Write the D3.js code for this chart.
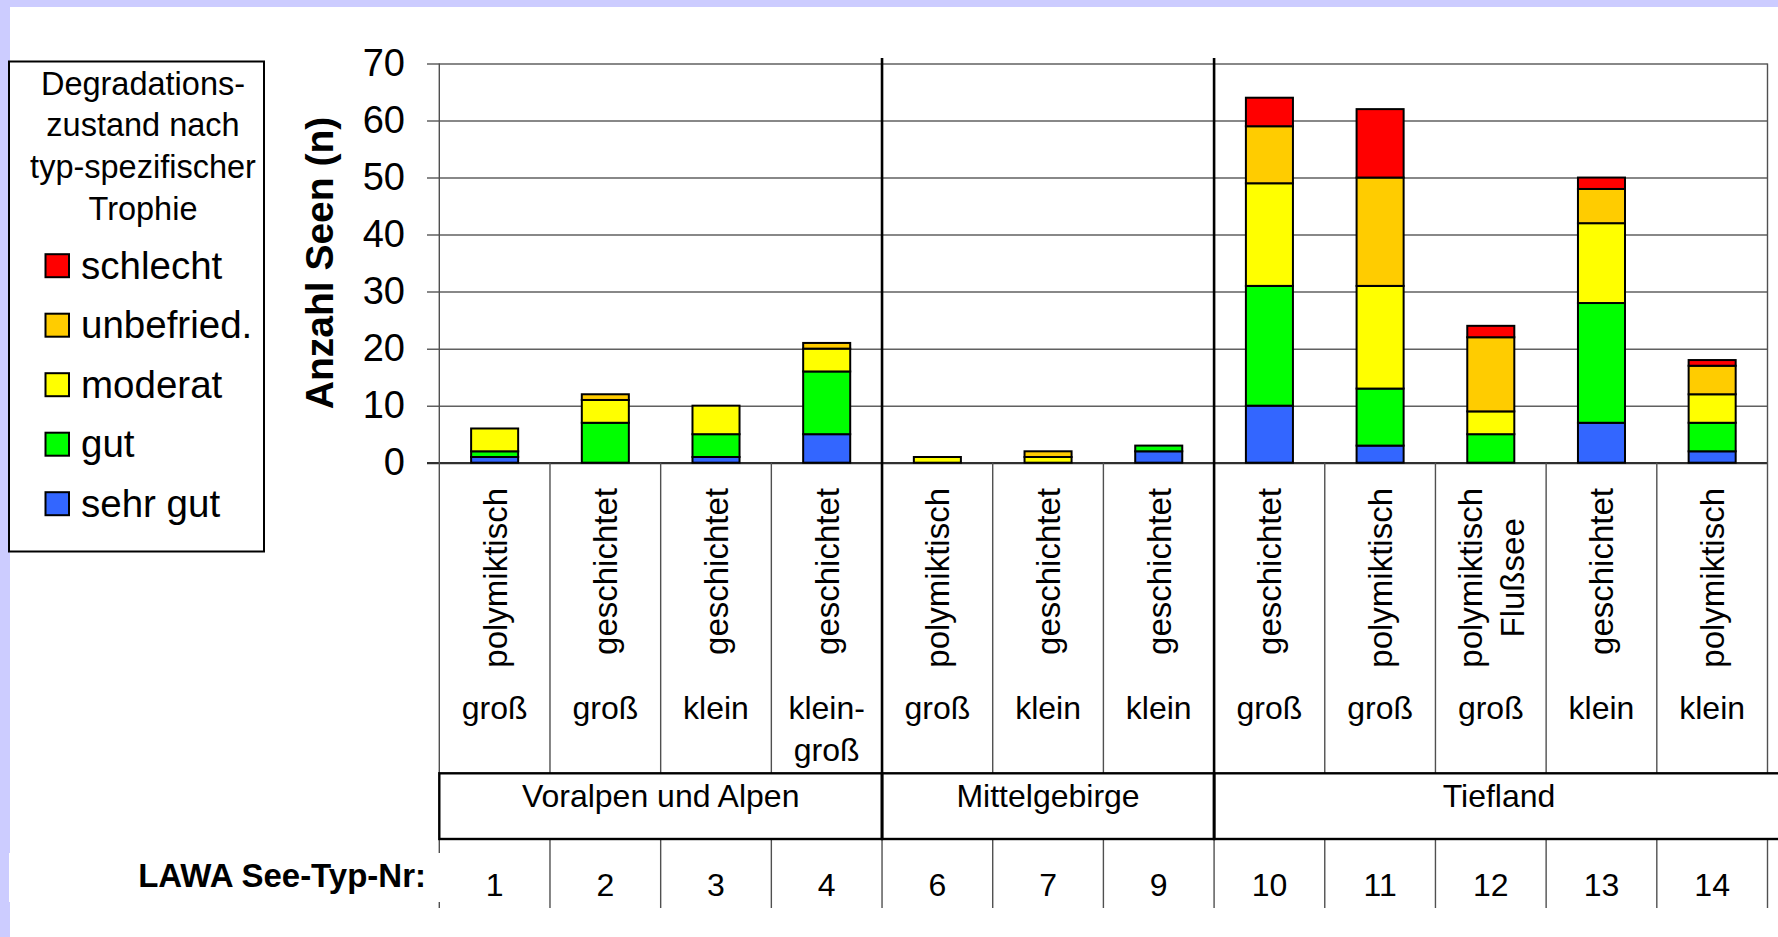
<!DOCTYPE html>
<html lang="de">
<head>
<meta charset="utf-8">
<title>Degradationszustand nach typ-spezifischer Trophie</title>
<script src="https://cdn.jsdelivr.net/npm/d3@7"></script>
<style>
  html, body { margin: 0; padding: 0; background: #ffffff; }
  svg { display: block; font-family: Arial, "Liberation Sans", sans-serif; }
</style>
</head>
<body>
<svg id="chart" width="1778" height="937"></svg>
<script>
// LAWA lake types along the x axis
const categories = ["1", "2", "3", "4", "6", "7", "9", "10", "11", "12", "13", "14"];
// mixing regime (rotated label lines) and size class (horizontal label lines)
const mixingLabels = [["polymiktisch"], ["geschichtet"], ["geschichtet"], ["geschichtet"],
  ["polymiktisch"], ["geschichtet"], ["geschichtet"], ["geschichtet"], ["polymiktisch"],
  ["polymiktisch", "Flußsee"], ["geschichtet"], ["polymiktisch"]];
const sizeLabels = [["groß"], ["groß"], ["klein"], ["klein-", "groß"], ["groß"], ["klein"],
  ["klein"], ["groß"], ["groß"], ["groß"], ["klein"], ["klein"]];

// eco-regions grouping the lake types
const regionNames = ["Voralpen und Alpen", "Mittelgebirge", "Tiefland"];
const regionFirst = ["1", "6", "10"];
const regionLast = ["4", "9", "14"];

// number of lakes per trophic degradation class
const classNames = ["sehr gut", "gut", "moderat", "unbefried.", "schlecht"];
const sehrGut   = [1, 0, 1, 5, 0, 0, 2, 10, 3, 0, 7, 2];
const gut       = [1, 7, 4, 11, 0, 0, 1, 21, 10, 5, 21, 5];
const moderat   = [4, 4, 5, 4, 1, 1, 0, 18, 18, 4, 14, 5];
const unbefried = [0, 1, 0, 1, 0, 1, 0, 10, 19, 13, 6, 5];
const schlecht  = [0, 0, 0, 0, 0, 0, 0, 5, 12, 2, 2, 1];
const classColors = ["#3366ff", "#00ff00", "#ffff00", "#ffcc00", "#ff0000"];

const yTicks = [0, 10, 20, 30, 40, 50, 60, 70];

const legendTitle = ["Degradations-", "zustand nach", "typ-spezifischer", "Trophie"];
const yTitle = "Anzahl Seen (n)";
const typeTitle = "LAWA See-Typ-Nr:";

// ---- layout ----
const W = 1778, H = 937;
const plotLeft = 439.3, plotRight = 1767.5, plotTop = 63.5, plotBottom = 462.7;
const labelBottom = 773.3, regionBottom = 839, numTop = 840, numBottom = 908;
const regionBoxRight = 1784;

const svg = d3.select("#chart");

// page frame
svg.append("rect").attr("width", W).attr("height", H).attr("fill", "#ccccff");
svg.append("rect").attr("x", 10).attr("y", 7).attr("width", W - 10).attr("height", H - 7).attr("fill", "#ffffff");

const x = d3.scaleBand().domain(categories).range([plotLeft, plotRight])
  .paddingInner(0.575).paddingOuter(0.2875);
const step = x.step();
const center = c => x(c) + x.bandwidth() / 2;
const edge = i => plotLeft + i * step;

const y = d3.scaleLinear().domain([0, 70]).range([plotBottom, plotTop]);

// gridlines + tick labels
const yAxis = d3.axisLeft(y).tickValues(yTicks)
  .tickSizeInner(plotRight - 427).tickSizeOuter(0).tickPadding(22)
  .tickFormat(d3.format("d"));
const gy = svg.append("g").attr("transform", `translate(${plotRight},0)`).call(yAxis);
gy.select(".domain").remove();
gy.selectAll(".tick line").attr("stroke", "#606060").attr("stroke-width", 1.5);
gy.selectAll(".tick text").attr("font-size", 38).attr("fill", "#000")
  .attr("font-family", "Arial, 'Liberation Sans', sans-serif");
gy.selectAll(".tick").filter(d => d === 0).select("line")
  .attr("stroke", "#303030").attr("stroke-width", 2.2);

// y axis title
svg.append("text")
  .attr("transform", `translate(333,263) rotate(-90)`)
  .attr("text-anchor", "middle")
  .attr("font-size", 39).attr("font-weight", "bold")
  .text(yTitle);

// stacked bars
const table = categories.map((c, i) => ({
  cat: c,
  "sehr gut": sehrGut[i], "gut": gut[i], "moderat": moderat[i],
  "unbefried.": unbefried[i], "schlecht": schlecht[i]
}));
const stacked = d3.stack().keys(classNames)(table);
const bars = svg.append("g");
stacked.forEach((layer, k) => {
  bars.selectAll(null)
    .data(layer.filter(d => d[1] > d[0]))
    .join("rect")
    .attr("x", d => x(d.data.cat))
    .attr("width", x.bandwidth())
    .attr("y", d => y(d[1]))
    .attr("height", d => y(d[0]) - y(d[1]))
    .attr("fill", classColors[k])
    .attr("stroke", "#000").attr("stroke-width", 2);
});

// vertical separators of the category table
const grid = svg.append("g");
const groupEdges = regionLast.slice(0, -1).map(c => categories.indexOf(c) + 1);
d3.range(categories.length + 1).forEach(i => {
  const xe = edge(i);
  if (groupEdges.includes(i)) {
    grid.append("line").attr("x1", xe).attr("x2", xe).attr("y1", 58).attr("y2", regionBottom)
      .attr("stroke", "#000").attr("stroke-width", 2.6);
  } else {
    const top = (i === 0 || i === categories.length) ? plotTop : plotBottom;
    grid.append("line").attr("x1", xe).attr("x2", xe).attr("y1", top).attr("y2", labelBottom)
      .attr("stroke", "#505050").attr("stroke-width", 1.4);
  }
  grid.append("line").attr("x1", xe).attr("x2", xe).attr("y1", numTop).attr("y2", numBottom)
    .attr("stroke", "#505050").attr("stroke-width", 1.4);
});

// rotated mixing-regime labels, top-aligned below the axis
const labelTop = 488, lineGap = 42, fs = 32, fsRot = 33;
categories.forEach((c, i) => {
  const lines = mixingLabels[i];
  const g = svg.append("g").attr("transform", `translate(${center(c)},${labelTop}) rotate(-90)`);
  const texts = lines.map((t, j) => g.append("text")
    .attr("font-size", fsRot).attr("text-anchor", "middle")
    .attr("y", (j - (lines.length - 1) / 2) * lineGap + fsRot * 0.36)
    .text(t));
  const maxW = d3.max(texts, t => t.node().getComputedTextLength());
  texts.forEach(t => t.attr("x", -maxW / 2));
});

// size class labels
categories.forEach((c, i) => {
  sizeLabels[i].forEach((t, j) => {
    svg.append("text").attr("x", center(c)).attr("y", 719 + j * lineGap)
      .attr("text-anchor", "middle").attr("font-size", fs).text(t);
  });
});

// region boxes
const regions = svg.append("g");
regionNames.forEach((name, r) => {
  const x0 = edge(categories.indexOf(regionFirst[r]));
  const x1 = r === regionNames.length - 1 ? regionBoxRight : edge(categories.indexOf(regionLast[r]) + 1);
  regions.append("rect").attr("x", x0).attr("y", labelBottom).attr("width", x1 - x0)
    .attr("height", regionBottom - labelBottom)
    .attr("fill", "none").attr("stroke", "#000").attr("stroke-width", 2.4);
  regions.append("text").attr("x", (x0 + x1) / 2).attr("y", 806.7)
    .attr("text-anchor", "middle").attr("font-size", fs).text(name);
});

// lake type numbers
svg.append("g").selectAll("text").data(categories).join("text")
  .attr("x", d => center(d)).attr("y", 895.7)
  .attr("text-anchor", "middle").attr("font-size", fs).text(d => d);

svg.append("rect").attr("x", 9).attr("y", 853).attr("width", 431.5).attr("height", 49).attr("fill", "#fff");
svg.append("text").attr("x", 426).attr("y", 886.7).attr("text-anchor", "end")
  .attr("font-size", 33).attr("font-weight", "bold").text(typeTitle);

// legend
const legend = svg.append("g");
legend.append("rect").attr("x", 9).attr("y", 61.5).attr("width", 255).attr("height", 490)
  .attr("fill", "#fff").attr("stroke", "#000").attr("stroke-width", 2);
legendTitle.forEach((t, i) => {
  legend.append("text").attr("x", 143).attr("y", 94.6 + i * 41.7)
    .attr("text-anchor", "middle").attr("font-size", 32.5).text(t);
});
const legendOrder = classNames.map((n, k) => k).reverse();
legendOrder.forEach((k, i) => {
  const cy = 265.7 + i * 59.5;
  legend.append("rect").attr("x", 45.5).attr("y", cy - 11.5).attr("width", 23.5).attr("height", 23)
    .attr("fill", classColors[k]).attr("stroke", "#000").attr("stroke-width", 2);
  legend.append("text").attr("x", 81).attr("y", cy + 13).attr("font-size", 38.5).text(classNames[k]);
});
</script>
</body>
</html>
